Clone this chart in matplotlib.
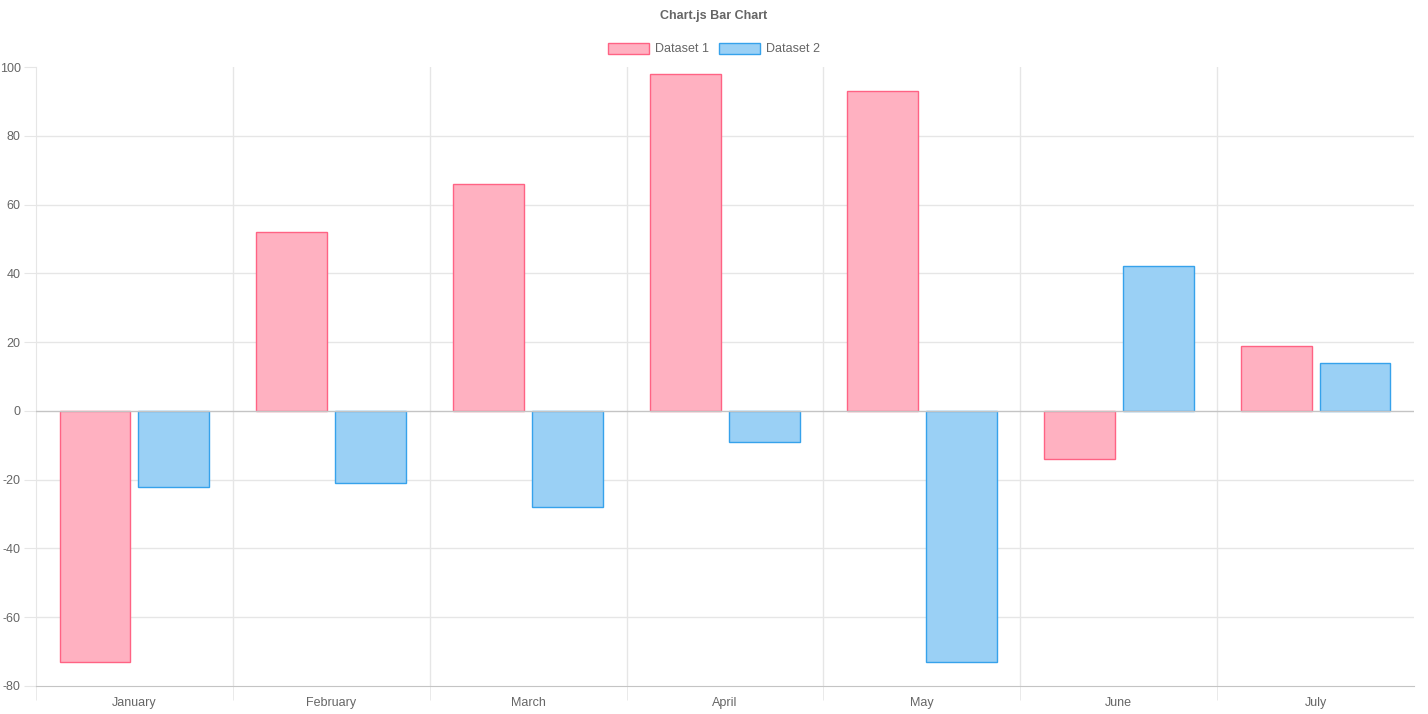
import numpy as np
import matplotlib
matplotlib.use('Agg')
import matplotlib.pyplot as plt

labels = ["January", "February", "March", "April", "May", "June", "July"]
dataset1 = [-73, 52, 66, 98, 93, -14, 19]
dataset2 = [-22, -21, -28, -9, -73, 42, 14]

plt.rcParams['font.family'] = ['Liberation Sans', 'DejaVu Sans']
plt.rcParams['axes.unicode_minus'] = False
txt = '#666666'
grid = '#e6e6e6'

W, H = 1428, 714
fig = plt.figure(figsize=(W / 100, H / 100), dpi=100)
ax = fig.add_axes([36 / W, 1 - 686 / H, (1414 - 36) / W, (686 - 67) / H])

x = np.arange(len(labels))
bw = 0.36
ax.bar(x - 0.2, dataset1, bw, color='#ffb1c1', edgecolor='#ff6384', linewidth=1, label='Dataset 1', zorder=3)
ax.bar(x + 0.2, dataset2, bw, color='#9ad0f5', edgecolor='#36a2eb', linewidth=1, label='Dataset 2', zorder=3)

ax.set_xlim(-0.5, len(labels) - 0.5)
ax.set_ylim(-80, 100)
ax.set_yticks(np.arange(-80, 101, 20))
ax.set_xticks(x)
ax.set_xticklabels(labels)
ax.set_xticks(np.arange(-0.5, len(labels) - 1, 1), minor=True)

# horizontal grid (none at the top edge)
for v in np.arange(-60, 81, 20):
    if v != 0:
        ax.axhline(v, color=grid, linewidth=1, zorder=1)
ax.axhline(0, color='#c4c4c4', linewidth=1, zorder=4)
for b in np.arange(0.5, len(labels) - 0.5, 1):
    ax.axvline(b, color=grid, linewidth=1, zorder=1)

for s in ['top', 'right']:
    ax.spines[s].set_visible(False)
ax.spines['left'].set_color(grid)
ax.spines['bottom'].set_color('#c4c4c4')

ax.tick_params(axis='y', length=9, color=grid, labelcolor=txt, labelsize=9, pad=2)
ax.tick_params(axis='x', which='major', length=0, labelcolor=txt, labelsize=9, pad=8)
ax.tick_params(axis='x', which='minor', length=10, color=grid)

fig.text(0.5, 1 - 16 / H, "Chart.js Bar Chart", ha='center', va='center',
         fontsize=9, fontweight='bold', color=txt)
lgd = fig.legend(loc='center', bbox_to_anchor=(0.5, 1 - 49 / H), ncol=2, frameon=False,
                 fontsize=9, handlelength=3.3, handleheight=1.0, handletextpad=0.5,
                 columnspacing=0.8, labelcolor=txt)

plt.savefig('out.png', dpi=100)
